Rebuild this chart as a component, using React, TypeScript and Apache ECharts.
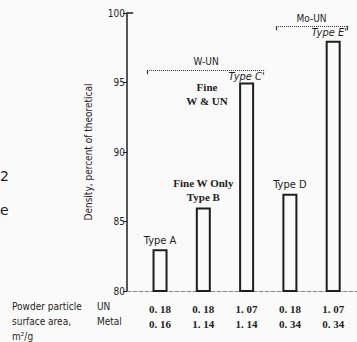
import React, { useEffect, useRef } from "react";
import * as echarts from "echarts";

const categories = ["Type A", "Type B", "Type C'", "Type D", "Type E'"];
const density = [83, 86, 95, 87, 98];
const xPos = [1, 2, 3, 4, 5];
const unArea = ["0. 18", "0. 18", "1. 07", "0. 18", "1. 07"];
const metalArea = ["0. 16", "1. 14", "1. 14", "0. 34", "0. 34"];
const yMin = 80;
const yMax = 100;
const yStep = 5;
const groupWUN = { name: "W-UN", from: 0.7, to: 3.43, y: 95.9 };
const groupMoUN = { name: "Mo-UN", from: 3.68, to: 5.32, y: 99.06 };

const NARROW = "'Liberation Sans Narrow', 'DejaVu Sans Condensed', sans-serif";
const SERIF = "'Liberation Serif', 'DejaVu Serif', serif";
const INK = "#1e1e1e";

export default function App() {
  const ref = useRef<HTMLDivElement>(null);
  useEffect(() => {
    if (!ref.current) return;
    const chart = echarts.init(ref.current, null, { renderer: "svg" });

    const labelFor = (i: number) => {
      const name = categories[i];
      if (i === 1) return `{serif|Fine W Only}\n{serif|${name}}`;
      if (name.endsWith("'")) return `{ital|${name}}`;
      return `{sans|${name}}`;
    };
    const labelDist = [3, 4, 1, 4, 3];

    const data = density.map((v, i) => ({
      value: [xPos[i], v],
      label: {
        show: true,
        position: "top",
        distance: labelDist[i],
        offset: i === 4 ? [-4, 0] : [0, 0],
        formatter: () => labelFor(i),
        rich: {
          sans: { fontFamily: NARROW, fontSize: 11, color: INK },
          ital: { fontFamily: NARROW, fontSize: 11, fontStyle: "italic", color: INK },
          serif: { fontFamily: SERIF, fontSize: 11, fontWeight: "bold", color: INK, lineHeight: 14 },
        },
      },
    }));

    const lineStyle = { color: "#333", width: 1, type: "dotted" as const };
    const markData: any[] = [
      [
        { coord: [groupWUN.from, groupWUN.y], label: { show: true, position: "middle", formatter: groupWUN.name } },
        { coord: [groupWUN.to, groupWUN.y] },
      ],
      [
        { coord: [groupWUN.from, groupWUN.y], lineStyle: { type: "solid", width: 1.2 } },
        { coord: [groupWUN.from, groupWUN.y - 0.3] },
      ],
      [
        { coord: [groupMoUN.from, groupMoUN.y], label: { show: true, position: "middle", formatter: groupMoUN.name } },
        { coord: [groupMoUN.to, groupMoUN.y] },
      ],
      [
        { coord: [groupMoUN.from, groupMoUN.y], lineStyle: { type: "solid", width: 1.2 } },
        { coord: [groupMoUN.from, groupMoUN.y - 0.3] },
      ],
      [
        { coord: [groupMoUN.to, groupMoUN.y], lineStyle: { type: "solid", width: 1.2 } },
        { coord: [groupMoUN.to, groupMoUN.y - 0.3] },
      ],
      [
        { coord: [0.237, yMax], lineStyle: { type: "solid", width: 1.5, color: INK } },
        { coord: [0.38, yMax] },
      ],
    ];

    chart.setOption({
      animation: false,
      backgroundColor: "#fafafa",
      grid: { left: 127, right: 0, top: 13, bottom: 51 },
      xAxis: {
        type: "value",
        min: 0.237,
        max: 5.55,
        splitLine: { show: false },
        axisLine: { show: true, lineStyle: { color: "#888", width: 1, type: "dashed" } },
        axisTick: { show: false },
        axisLabel: {
          customValues: xPos,
          margin: 10,
          fontFamily: SERIF,
          fontSize: 11,
          fontWeight: "bold",
          color: INK,
          lineHeight: 15,
          formatter: (v: number) => {
            const i = xPos.indexOf(Math.round(v));
            return i < 0 ? "" : `${unArea[i]}\n${metalArea[i]}`;
          },
        },
      },
      yAxis: {
        type: "value",
        min: yMin,
        max: yMax,
        interval: yStep,
        splitLine: { show: false },
        axisLine: { show: true, lineStyle: { color: INK, width: 1.5 } },
        axisTick: { show: true, length: 4, lineStyle: { color: INK, width: 1 } },
        axisLabel: { fontFamily: NARROW, fontSize: 10, color: INK, margin: 2 },
        name: "Density, percent of theoretical",
        nameLocation: "middle",
        nameGap: 34,
        nameTextStyle: { fontFamily: NARROW, fontSize: 10, color: INK },
      },
      series: [
        {
          type: "bar",
          data,
          barWidth: 15,
          itemStyle: { color: "rgba(0,0,0,0)", borderColor: INK, borderWidth: 2 },
          markLine: {
            silent: true,
            symbol: "none",
            lineStyle,
            label: { show: false, fontFamily: NARROW, fontSize: 10, color: INK, distance: 3 },
            data: markData,
          },
        },
      ],
      graphic: [
        { type: "text", left: 12, top: 301, style: { text: "Powder particle", font: `10px ${NARROW}`, fill: INK } },
        { type: "text", left: 12, top: 316, style: { text: "surface area,", font: `10px ${NARROW}`, fill: INK } },
        { type: "text", left: 12, top: 331, style: { text: "m²/g", font: `10px ${NARROW}`, fill: INK } },
        { type: "text", left: 97, top: 301, style: { text: "UN", font: `10px ${NARROW}`, fill: INK } },
        { type: "text", left: 97, top: 316, style: { text: "Metal", font: `10px ${NARROW}`, fill: INK } },
        {
          type: "text",
          x: 207,
          y: 80,
          style: { text: "Fine\nW & UN", font: `bold 11px ${SERIF}`, fill: INK, align: "center", lineHeight: 14 },
        },
        { type: "text", x: 0, y: 169, style: { text: "2", font: `14px 'DejaVu Sans', sans-serif`, fill: INK } },
        { type: "text", x: 0, y: 203, style: { text: "e", font: `14px 'DejaVu Sans', sans-serif`, fill: INK } },
      ],
    });
    return () => chart.dispose();
  }, []);
  return <div ref={ref} style={{ position: "fixed", left: 0, top: 0, width: 357, height: 342 }} />;
}
